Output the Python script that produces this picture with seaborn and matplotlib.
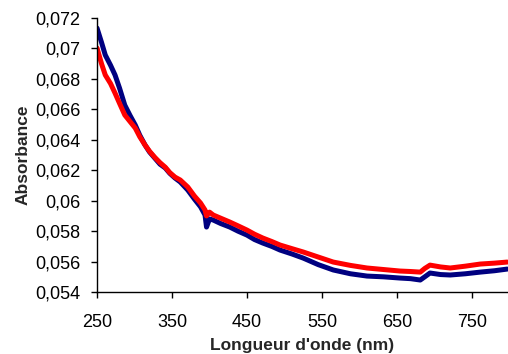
import pandas as pd
import matplotlib
matplotlib.use("Agg")
import matplotlib.pyplot as plt
from matplotlib.ticker import FuncFormatter
import seaborn as sns

# wavelengths (nm)
wl = [250, 256, 261, 268, 274, 280, 287, 294, 301, 307, 314, 320, 327, 334,
      341, 347, 354, 361, 371, 380, 388, 394, 396, 400, 405, 415, 427, 438,
      450, 460, 471, 483, 494, 510, 525, 545, 565, 588, 610, 632, 654, 668,
      681, 687, 694, 708, 721, 741, 761, 780, 797]

# blue spectrum (navy)
abs_blue = [0.07134, 0.07040, 0.06957, 0.06890, 0.06826, 0.06740, 0.06628,
            0.06560, 0.06497, 0.06430, 0.06366, 0.06320, 0.06280, 0.06240,
            0.06215, 0.06180, 0.06149, 0.06123, 0.06070, 0.06010, 0.05960,
            0.05906, 0.05827, 0.05880, 0.05873, 0.05850, 0.05827, 0.05800,
            0.05774, 0.05745, 0.05722, 0.05700, 0.05676, 0.05650, 0.05623,
            0.05580, 0.05545, 0.05520, 0.05505, 0.05500, 0.05492, 0.05488,
            0.05479, 0.05500, 0.05525, 0.05515, 0.05512, 0.05520, 0.05531,
            0.05540, 0.05551]

# red spectrum
abs_red = [0.07003, 0.06900, 0.06826, 0.06770, 0.06707, 0.06640, 0.06563,
           0.06520, 0.06477, 0.06420, 0.06366, 0.06325, 0.06285, 0.06250,
           0.06220, 0.06185, 0.06155, 0.06136, 0.06090, 0.06030, 0.05985,
           0.05939, 0.05900, 0.05925, 0.05906, 0.05885, 0.05860, 0.05835,
           0.05807, 0.05780, 0.05755, 0.05732, 0.05709, 0.05685, 0.05663,
           0.05630, 0.05597, 0.05575, 0.05558, 0.05548, 0.05538, 0.05535,
           0.05531, 0.05555, 0.05577, 0.05565, 0.05558, 0.05570, 0.05584,
           0.05590, 0.05597]

df = pd.DataFrame({
    "wl": wl * 2,
    "abs": abs_blue + abs_red,
    "serie": ["bleu"] * len(wl) + ["rouge"] * len(wl),
})

sns.set_style("ticks")
plt.rcParams["font.family"] = ["Liberation Sans", "DejaVu Sans"]

fig = plt.figure(figsize=(5.08, 3.54), dpi=100)
ax = fig.add_axes([0.191, 0.175, 0.809, 0.774])

sns.lineplot(data=df, x="wl", y="abs", hue="serie",
             palette={"bleu": "#000080", "rouge": "#FF0000"},
             linewidth=3.6, legend=False, ax=ax)

ax.set_xlim(250, 798)
ax.set_ylim(0.054, 0.072)
ax.set_xticks([250, 350, 450, 550, 650, 750])
ax.set_yticks([0.054 + 0.002 * i for i in range(10)])
ax.yaxis.set_major_formatter(FuncFormatter(
    lambda v, p: ("%.3f" % v).rstrip("0").rstrip(".").replace(".", ",")))

sns.despine(ax=ax)
for s in ["left", "bottom"]:
    ax.spines[s].set_color("black")
    ax.spines[s].set_linewidth(1.0)
ax.tick_params(axis="x", direction="out", length=4, width=1, pad=12,
               labelsize=13, colors="black")
ax.tick_params(axis="y", direction="out", length=4, width=1, pad=8,
               labelsize=13, colors="black")

ax.set_xlabel("Longueur d'onde (nm)", fontsize=12.5, fontweight="bold", labelpad=5)
ax.set_ylabel("Absorbance", fontsize=12.5, fontweight="bold", labelpad=3)

fig.savefig("out.png", dpi=100)
